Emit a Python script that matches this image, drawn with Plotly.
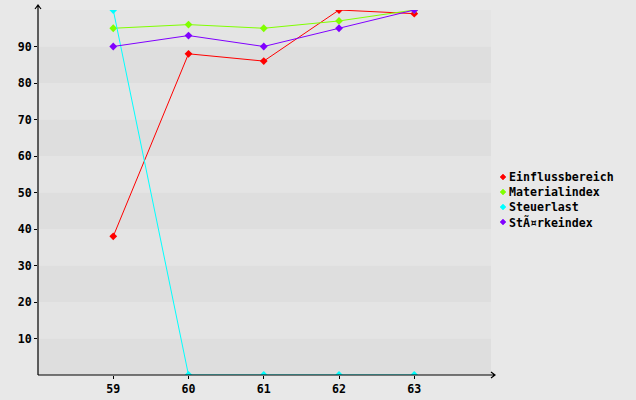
import plotly.graph_objects as go

categories = [59, 60, 61, 62, 63]
series_names = ["Einflussbereich", "Materialindex", "Steuerlast", "StÃ¤rkeindex"]
einfluss = [38, 88, 86, 100, 99]
material = [95, 96, 95, 97, 100]
steuer = [100, 0, 0, 0, 0]
staerke = [90, 93, 90, 95, 100]
y_ticks = [10, 20, 30, 40, 50, 60, 70, 80, 90]
colors = ["#ff0000", "#80ff00", "#00ffff", "#8000ff"]

FONT = "DejaVu Sans Mono"
FS = 11.6
fig = go.Figure()
for name, vals, col in zip(series_names, [einfluss, material, steuer, staerke], colors):
    fig.add_trace(go.Scatter(x=categories, y=vals, mode="lines+markers", name=name,
                             line=dict(color=col, width=1),
                             marker=dict(symbol="diamond", size=6, color=col),
                             showlegend=False, hoverinfo="skip"))

W, H = 636, 400
L, R, T, B = 38, 145, 10, 25
pw, ph = W - L - R, H - T - B

shapes = []
for i in range(10):
    shapes.append(dict(type="rect", xref="paper", yref="y", x0=0, x1=1,
                       y0=i * 10, y1=i * 10 + 10, line=dict(width=0),
                       fillcolor="#dedede" if i % 2 == 0 else "#e4e4e4", layer="below"))
# axes with arrows (pixel paths anchored at plot origin)
shapes.append(dict(type="path", xsizemode="pixel", ysizemode="pixel", xanchor=0, yanchor=0,
                   xref="paper", yref="paper",
                   path="M0,0 L0,370 M-3,366 L0,370 L3,366",
                   line=dict(color="black", width=1.2)))
shapes.append(dict(type="path", xsizemode="pixel", ysizemode="pixel", xanchor=0, yanchor=0,
                   xref="paper", yref="paper",
                   path="M0,0 L457,0 M453,3 L457,0 L453,-3",
                   line=dict(color="black", width=1.2)))

# manual legend
annotations = []
leg_x = (503 - L) / pw
leg_top = 177
for i, (name, col) in enumerate(zip(series_names, colors)):
    ypix = leg_top + 15 * i
    yp = (H - B - ypix) / ph
    shapes.append(dict(type="path", xsizemode="pixel", ysizemode="pixel",
                       xanchor=leg_x, yanchor=yp, xref="paper", yref="paper",
                       path="M-3,0 L0,3 L3,0 L0,-3 Z", fillcolor=col,
                       line=dict(color=col, width=0.5)))
    annotations.append(dict(x=leg_x, y=yp, xref="paper", yref="paper", xshift=4,
                            text=name, showarrow=False, xanchor="left", yanchor="middle",
                            font=dict(family=FONT, size=FS, color="black", weight="bold")))

fig.update_layout(
    width=W, height=H,
    margin=dict(l=L, r=R, t=T, b=B),
    paper_bgcolor="#e8e8e8", plot_bgcolor="#e8e8e8",
    shapes=shapes, annotations=annotations, showlegend=False,
    font=dict(family=FONT, size=FS, color="black"),
    xaxis=dict(range=[58, 64.02], tickvals=categories, ticktext=[str(c) for c in categories],
               showgrid=False, zeroline=False, showline=False, automargin=False,
               ticks="outside", ticklen=3, tickcolor="black",
               tickfont=dict(family=FONT, size=FS, color="black", weight="bold")),
    yaxis=dict(range=[0, 100], tickvals=y_ticks, ticktext=[str(v) for v in y_ticks],
               showgrid=False, zeroline=False, showline=False, automargin=False,
               ticks="outside", ticklen=3, tickcolor="black",
               tickfont=dict(family=FONT, size=FS, color="black", weight="bold")),
)
fig.write_html("out.html", config={"displayModeBar": False},
               post_script="document.body.style.margin='0';document.body.style.background='#e8e8e8';")
